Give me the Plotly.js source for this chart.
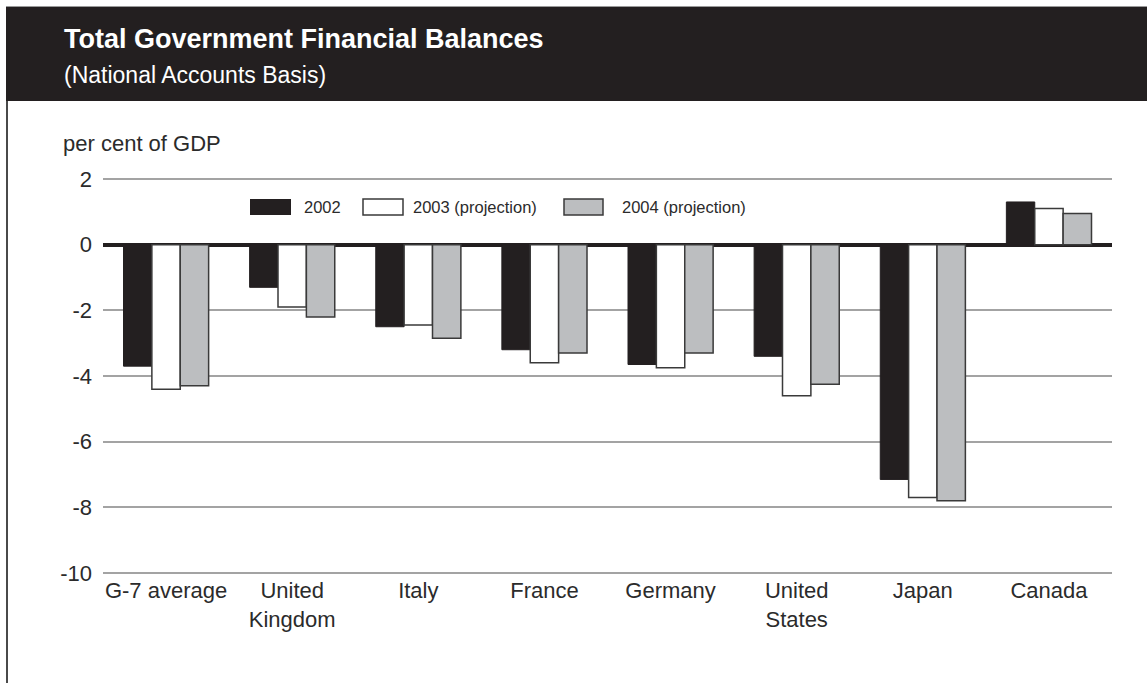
<!DOCTYPE html>
<html>
<head>
<meta charset="utf-8">
<script src="https://cdn.plot.ly/plotly-3.0.1.min.js"></script>
<style>
  html, body { margin: 0; padding: 0; background: #ffffff; }
  #chart { width: 1147px; height: 683px; }
</style>
</head>
<body>
<div id="chart"></div>
<script>
// ---- data ----
const categories = ["G-7 average", "United<br>Kingdom", "Italy", "France", "Germany", "United<br>States", "Japan", "Canada"];
const seriesNames = ["2002", "2003 (projection)", "2004 (projection)"];
const values2002 = [-3.7, -1.3, -2.5, -3.2, -3.65, -3.4, -7.15, 1.3];
const values2003 = [-4.4, -1.9, -2.45, -3.6, -3.75, -4.6, -7.7, 1.1];
const values2004 = [-4.3, -2.2, -2.85, -3.3, -3.3, -4.25, -7.8, 0.95];
const yTickVals = [2, 0, -2, -4, -6, -8, -10];

// ---- styles ----
const W = 1147, H = 683;
const M = { l: 103, r: 35, t: 177, b: 108 };
const PW = W - M.l - M.r, PH = H - M.t - M.b;
const px = x => (x - M.l) / PW;        // pixel -> paper x
const py = y => (H - M.b - y) / PH;    // pixel -> paper y

const DARK = "#231f20";
const TEXT = "#2b2b2b";
const fills = [DARK, "#ffffff", "#bcbec0"];
const lines = [DARK, "#3a3a3a", "#3a3a3a"];
const lineW = [1, 1.5, 1.5];
const FONT = "Liberation Sans, Arial, Helvetica, sans-serif";

const seriesValues = [values2002, values2003, values2004];
const traces = seriesValues.map((vals, i) => ({
  type: "bar",
  name: seriesNames[i],
  x: categories,
  y: vals,
  marker: { color: fills[i], line: { color: lines[i], width: lineW[i] } },
  hoverinfo: "x+y+name",
  showlegend: false
}));

// custom legend (wide swatches)
const legendSw = [[250, 291], [363, 403], [564, 603]];
const legendTx = [303, 412, 621];
const shapes = [
  // header band
  { type: "rect", xref: "paper", yref: "paper", x0: px(6), x1: px(W + 5), y0: py(101), y1: py(7),
    fillcolor: DARK, line: { width: 0 }, layer: "above" },
  { type: "line", xref: "paper", yref: "paper", x0: px(6), x1: px(W + 5), y0: py(6.5), y1: py(6.5),
    line: { color: "#9a9a9a", width: 1 }, layer: "above" },
  // left border
  { type: "line", xref: "paper", yref: "paper", x0: px(7), x1: px(7), y0: py(H + 5), y1: py(101),
    line: { color: "#4a4a4a", width: 2 }, layer: "above" }
];
seriesNames.forEach((n, i) => {
  shapes.push({ type: "rect", xref: "paper", yref: "paper",
    x0: px(legendSw[i][0]), x1: px(legendSw[i][1]), y0: py(215), y1: py(199),
    fillcolor: fills[i], line: { color: lines[i], width: i === 0 ? 0 : 1.5 }, layer: "above" });
});

const annotations = [
  { text: "<b>Total Government Financial Balances</b>", xref: "paper", yref: "paper",
    x: px(62), y: py(39), xanchor: "left", yanchor: "middle", showarrow: false,
    font: { family: FONT, size: 27, color: "#ffffff" } },
  { text: "(National Accounts Basis)", xref: "paper", yref: "paper",
    x: px(62), y: py(75), xanchor: "left", yanchor: "middle", showarrow: false,
    font: { family: FONT, size: 23, color: "#ffffff" } },
  { text: "per cent of GDP", xref: "paper", yref: "paper",
    x: px(61), y: py(144), xanchor: "left", yanchor: "middle", showarrow: false,
    font: { family: FONT, size: 22, color: TEXT } }
];
seriesNames.forEach((n, i) => {
  annotations.push({ text: n, xref: "paper", yref: "paper",
    x: px(legendTx[i] - 1), y: py(207), xanchor: "left", yanchor: "middle", showarrow: false,
    font: { family: FONT, size: 16.5, color: TEXT } });
});

const layout = {
  width: W, height: H,
  margin: M,
  paper_bgcolor: "#ffffff",
  plot_bgcolor: "#ffffff",
  barmode: "group",
  bargap: 0.325,
  bargroupgap: 0,
  showlegend: false,
  font: { family: FONT, size: 22, color: TEXT },
  xaxis: {
    type: "category",
    range: [-0.5, 7.5],
    showgrid: false,
    showline: false,
    ticks: "",
    tickfont: { family: FONT, size: 22, color: TEXT },
    ticklabelstandoff: 0,
    fixedrange: true
  },
  yaxis: {
    range: [-10.06, 2.06],
    tickvals: yTickVals,
    ticktext: yTickVals.map(String),
    showgrid: true,
    gridcolor: "#a3a3a3",
    gridwidth: 1.5,
    zeroline: true,
    zerolinecolor: DARK,
    zerolinewidth: 4,
    showline: false,
    ticks: "",
    ticklabelstandoff: 10,
    tickfont: { family: FONT, size: 22, color: TEXT },
    fixedrange: true
  },
  shapes: shapes,
  annotations: annotations
};

Plotly.newPlot("chart", traces, layout, { displayModeBar: false });
</script>
</body>
</html>
